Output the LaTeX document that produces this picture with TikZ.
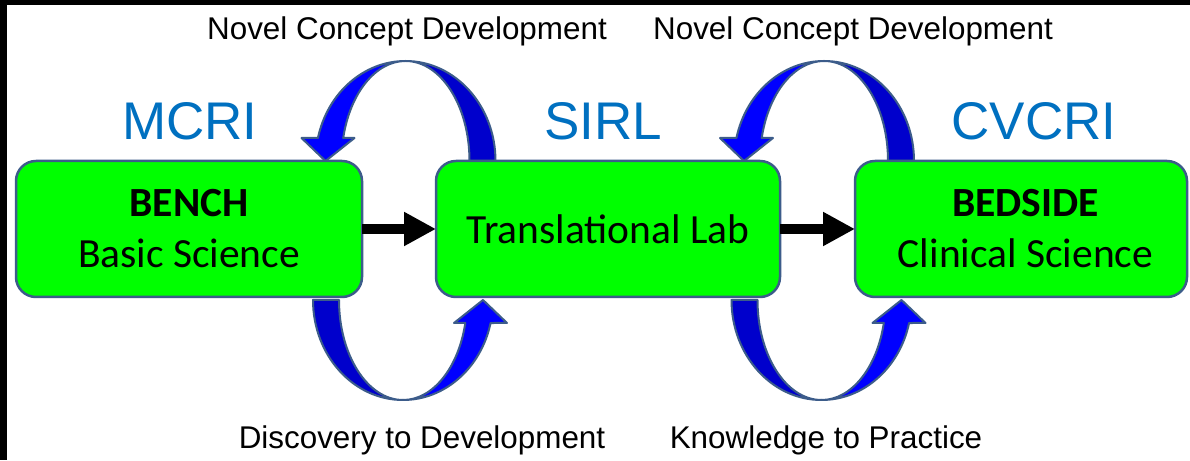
\documentclass[tikz,border=0pt]{standalone}
\usepackage{fontspec}
\setmainfont{Liberation Sans}
\newfontfamily\boxfont{Carlito}
\usetikzlibrary{arrows.meta,calc}
\pgfdeclarelayer{background}
\pgfsetlayers{background,main}
\definecolor{boxgreen}{RGB}{0,255,0}
\definecolor{edgeblue}{RGB}{60,92,138}
\definecolor{brightblue}{RGB}{0,0,255}
\definecolor{darkblue}{RGB}{0,0,204}
\definecolor{labelblue}{RGB}{0,112,192}
\begin{document}
\begin{tikzpicture}[x=1pt,y=1pt,
  stagebox/.style={draw=edgeblue, line width=2.5pt, fill=boxgreen, rounded corners=20pt,
    minimum height=136pt, inner sep=0pt, outer sep=0pt, align=center,
    font=\boxfont\fontsize{41.5}{51}\selectfont},
  flow/.style={line width=10pt, -{Triangle[length=32pt,width=32pt]}},
  orglabel/.style={text=labelblue, font=\fontsize{53}{60}\selectfont, anchor=base, inner sep=0pt},
  cyclelabel/.style={font=\fontsize{31.4}{36}\selectfont, anchor=base, inner sep=0pt},
  bendarrow/.pic={
    \path[fill=darkblue, draw=edgeblue, line width=2pt, line join=round]
      (90,0) arc[start angle=0, end angle=90, x radius=90, y radius=100]
      arc[start angle=90, end angle=0, x radius=64, y radius=100] -- cycle;
    \path[fill=brightblue, draw=edgeblue, line width=2pt, line join=round]
      (0,100) arc[start angle=90, end angle=166.7, x radius=90, y radius=100]
      -- (-104,23) -- (-80,0) -- (-51,23) -- (-62.3,23)
      arc[start angle=166.7, end angle=90, x radius=64, y radius=100] -- cycle;
  }
]
\useasboundingbox (0,0) rectangle (1190,460);
\begin{pgfonlayer}{background}
\fill[white] (0,0) rectangle (1190,460);
\end{pgfonlayer}
\fill[black] (0,455) rectangle (1190,460);
\fill[black] (0,0) rectangle (7,460);

% stage boxes
\node[stagebox, minimum width=346pt] (b1) at (189,231) {\textbf{BENCH}\\Basic Science};
\node[stagebox, minimum width=344pt] (b2) at (608,231) {Translational Lab};
\node[stagebox, minimum width=332pt] (b3) at (1021,231) {\hspace*{9pt}\textbf{BEDSIDE}\\\hspace*{9pt}Clinical Science};

% straight flow arrows
\draw[flow] (b1.east) -- (b2.west);
\draw[flow] (b2.east) -- (b3.west);

% curved feedback arrows
\coordinate (tl) at ($(b1.north east)!0.5!(b2.north west)+(6.5,0)$);
\coordinate (tr) at ($(b2.north east)!0.5!(b3.north west)+(6.5,0)$);
\coordinate (bl) at ($(b1.south east)!0.5!(b2.south west)+(4,-3)$);
\coordinate (br) at ($(b2.south east)!0.5!(b3.south west)+(4,-3)$);
\begin{pgfonlayer}{background}
\pic at (tl) {bendarrow};
\pic at (tr) {bendarrow};
\pic[rotate=180] at (bl) {bendarrow};
\pic[rotate=180] at (br) {bendarrow};
\end{pgfonlayer}

% labels
\node[orglabel] (mcri) at (190,320) {MCRI};
\node[orglabel] (sirl) at (603,320) {SIRL};
\node[orglabel] (cvcri) at (1034,320) {CVCRI};
\node[cyclelabel] (ncd1) at (407,420) {Novel Concept Development};
\node[cyclelabel] (ncd2) at (853,420) {Novel Concept Development};
\node[cyclelabel] (dtd) at (422,12) {Discovery to Development};
\node[cyclelabel] (ktp) at (826,12) {Knowledge to Practice};
\end{tikzpicture}
\end{document}
